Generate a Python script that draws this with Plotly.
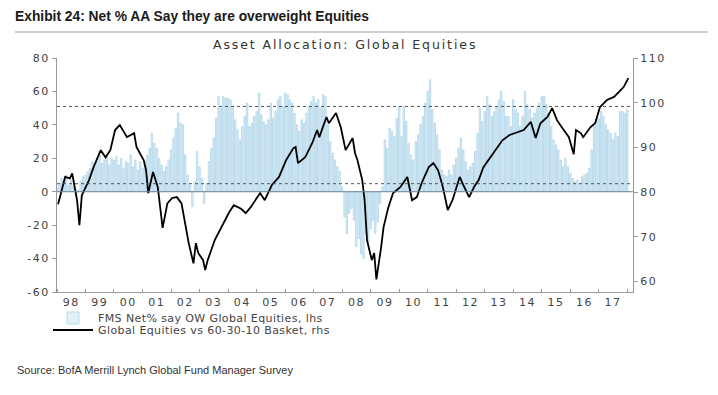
import pandas as pd
import plotly.graph_objects as go

# ---------------- data ----------------
bar_start = "1998-01-01"
bar_values = [
    # 1998
    2, 5, 8, 6, 10, 4, 7, 3, -2, 1, 6, 9,
    # 1999
    10, 12, 14, 18, 15, 20, 22, 17, 19, 21, 16, 20,
    # 2000
    19, 21, 16, 20, 14, 18, 17, 22, 15, 19, 13, 18,
    # 2001
    14, 18, 22, 26, 35, 29, 26, 20, 16, 12, 15, 19,
    # 2002
    25, 32, 38, 47, 41, 40, 22, 10, 4, -9, 6, 24,
    # 2003
    15, 8, -7, 5, 18, 26, 32, 44, 57, 50, 57, 56,
    # 2004
    56, 55, 51, 43, 37, 31, 39, 45, 53, 39, 41, 45,
    # 2005
    48, 59, 46, 42, 40, 43, 53, 44, 48, 55, 57, 51,
    # 2006
    59, 58, 55, 53, 47, 40, 36, 43, 41, 47, 51, 54,
    # 2007
    57, 53, 55, 50, 58, 57, 40, 30, 23, 19, 15, 12,
    # 2008
    3, -15, -25, -13, -10, -17, -33, -28, -37, -40, -25, -30,
    # 2009
    -22, -17, -25, -18, -7, 3, 31, 26, 38, 36, 33, 44,
    # 2010
    51, 33, 51, 42, 29, 22, 19, 30, 34, 40, 45, 53,
    # 2011
    60, 67, 49, 41, 34, 25, 13, 10, 9, 13, 10, 16,
    # 2012
    20, 26, 32, 25, 18, 13, 15, 17, 24, 35, 50, 42,
    # 2013
    48, 57, 52, 45, 48, 51, 55, 60, 54, 45, 45, 39,
    # 2014
    55, 49, 47, 39, 45, 60, 52, 49, 44, 47, 50, 53,
    # 2015
    57, 57, 52, 47, 39, 31, 28, 25, 19, 15, 20, 15,
    # 2016
    11, 8, 6, 7, 5, 9, 10, 11, 14, 25, 39, 44,
    # 2017
    44, 48, 45, 40, 37, 35, 31, 35, 33, 48, 48, 47,
    # 2018
    49,
]
bar_dates = pd.date_range(bar_start, periods=len(bar_values), freq="MS")

line_dates = [
    "1998-01-15", "1998-04-15", "1998-06-15", "1998-07-15", "1998-09-15", "1998-10-15", "1998-11-15",
    "1999-02-15", "1999-04-15", "1999-07-15", "1999-09-15", "1999-11-15",
    "2000-01-15", "2000-03-15", "2000-06-15", "2000-09-15", "2000-10-15",
    "2001-01-15", "2001-02-15", "2001-03-15", "2001-05-15", "2001-07-15", "2001-09-15", "2001-11-15",
    "2002-01-15", "2002-03-15", "2002-05-15", "2002-07-15", "2002-08-15", "2002-10-15", "2002-11-15", "2002-12-15",
    "2003-02-15", "2003-03-15", "2003-04-15", "2003-07-15", "2003-09-15", "2003-11-15",
    "2004-01-15", "2004-03-15", "2004-06-15", "2004-08-15", "2004-10-15",
    "2005-02-15", "2005-04-15", "2005-07-15", "2005-10-15",
    "2006-01-15", "2006-04-15", "2006-05-15", "2006-06-15", "2006-09-15", "2006-12-15",
    "2007-02-15", "2007-03-15", "2007-06-15", "2007-07-15", "2007-10-15", "2007-12-15",
    "2008-02-15", "2008-05-15", "2008-06-15", "2008-07-15", "2008-09-15", "2008-10-15", "2008-11-15",
    "2009-01-15", "2009-02-15", "2009-03-15", "2009-05-15", "2009-06-15", "2009-08-15", "2009-10-15",
    "2010-01-15", "2010-04-15", "2010-06-15", "2010-08-15", "2010-10-15",
    "2011-01-15", "2011-03-15", "2011-05-15", "2011-07-15", "2011-08-15", "2011-09-15", "2011-11-15",
    "2012-02-15", "2012-04-15", "2012-06-15", "2012-08-15", "2012-10-15", "2012-12-15",
    "2013-03-15", "2013-06-15", "2013-08-15", "2013-11-15",
    "2014-02-15", "2014-05-15", "2014-08-15", "2014-10-15", "2014-12-15",
    "2015-03-15", "2015-05-15", "2015-07-15", "2015-09-15", "2015-12-15",
    "2016-02-15", "2016-03-15", "2016-05-15", "2016-06-15", "2016-09-15", "2016-11-15",
    "2017-01-15", "2017-04-15", "2017-07-15", "2017-09-15", "2017-11-15", "2018-01-15",
]
line_values = [
    77.3, 83.4, 83.1, 84.2, 78.2, 72.6, 79.3,
    82.7, 85.6, 89.4, 87.8, 89.4,
    93.9, 95.0, 92.3, 93.2, 90.1,
    87.2, 84.9, 79.8, 84.5, 81.1, 72.0, 77.5,
    78.7, 78.9, 77.5, 71.5, 68.6, 64.1, 68.6, 66.4,
    64.8, 62.6, 64.8, 69.3, 71.5, 73.7,
    75.5, 77.1, 76.3, 75.3, 76.6,
    79.8, 78.2, 81.6, 83.4,
    87.2, 89.8, 90.1, 86.5, 87.8, 91.0,
    93.9, 92.3, 96.8, 95.4, 97.7, 94.5,
    89.4, 92.1, 88.7, 87.2, 82.7, 78.2, 69.3,
    64.8, 66.4, 60.5, 67.7, 72.2, 76.6, 79.8,
    81.1, 83.4, 78.2, 78.9, 82.0,
    85.6, 86.5, 84.9, 81.1, 78.9, 76.0, 78.2,
    83.4, 81.1, 78.9, 81.1, 82.7, 85.6,
    87.8, 90.1, 91.6, 92.8,
    93.4, 93.9, 95.7, 92.1, 95.4,
    96.8, 98.8, 96.1, 94.5, 92.3,
    88.5, 93.9, 93.2, 92.3, 94.5, 95.4,
    99.0, 100.6, 101.3, 102.4, 103.5, 105.5,
]

upper_band = 51.0   # dotted reference line, lhs
lower_band = 4.8    # dotted reference line, lhs
left_ticks = [-60, -40, -20, 0, 20, 40, 60, 80]
right_ticks = [60, 70, 80, 90, 100, 110]
years = list(range(1998, 2018))
year_labels = ["98", "99", "00", "01", "02", "03", "04", "05", "06", "07",
               "08", "09", "10", "11", "12", "13", "14", "15", "16", "17"]

title_text = "Exhibit 24: Net % AA Say they are overweight Equities"
subtitle_text = "Asset Allocation: Global Equities"
source_text = "Source: BofA Merrill Lynch Global Fund Manager Survey"
bar_name = "FMS Net% say OW Global Equities, lhs"
line_name = "Global Equities vs 60-30-10 Basket, rhs"

# ---------------- figure ----------------
def spaced(s, sp=1.2):
    return '<span style="letter-spacing:%spx">%s</span>' % (sp, s)

tick_font = dict(family="DejaVu Sans", size=11, color="#444444")
axis_col = "#9a9a9a"

fig = go.Figure()
fig.add_trace(go.Bar(
    x=bar_dates, y=bar_values, name=spaced(bar_name, 0.4), yaxis="y", legend="legend",
    marker=dict(color="rgba(218,238,248,0.8)", line=dict(color="#a6d0e6", width=0.7)),
))
fig.add_trace(go.Scatter(
    x=line_dates, y=line_values, name=spaced(line_name, 0.4), yaxis="y2", mode="lines",
    legend="legend2", line=dict(color="black", width=1.8),
))

W, H = 718, 395
L, R, T, B = 57, 633, 58, 292
pw, ph = R - L, B - T

def px_x(x):
    return (x - L) / pw

def px_y(y):
    return (B - y) / ph

shapes = [
    dict(type="line", xref="paper", yref="y", x0=0, x1=1, y0=0, y1=0,
         line=dict(color="#6f8496", width=1)),
    dict(type="line", xref="paper", yref="y", x0=0, x1=1, y0=upper_band, y1=upper_band,
         line=dict(color="#555555", width=1, dash="dot")),
    dict(type="line", xref="paper", yref="y", x0=0, x1=1, y0=lower_band, y1=lower_band,
         line=dict(color="#555555", width=1, dash="dot")),
    dict(type="line", xref="paper", yref="paper", x0=px_x(15), x1=px_x(708),
         y0=px_y(32), y1=px_y(32), line=dict(color="#a0a0a0", width=1)),
]

legend_common = dict(xanchor="left", yanchor="middle", bgcolor="rgba(0,0,0,0)",
                     itemwidth=40, borderwidth=0,
                     font=dict(family="DejaVu Sans", size=11, color="#444444"))

fig.update_layout(
    width=W, height=H,
    margin=dict(l=L, r=W - R, t=T, b=H - B, pad=0),
    paper_bgcolor="white", plot_bgcolor="white",
    bargap=0.35,
    showlegend=True,
    title=dict(text="<b>" + title_text + "</b>", x=15 / W, xanchor="left", xref="container",
               y=1 - 16 / H, yanchor="middle", yref="container",
               font=dict(family="Liberation Sans Narrow, Liberation Sans", size=13.8, color="#1a1a1a")),
    xaxis=dict(type="date", range=["1998-01-01", "2018-03-15"],
               tickvals=["%d-07-02" % y for y in years],
               ticktext=[spaced(t, 1.5) for t in year_labels],
               ticks="", showline=True, linecolor=axis_col, linewidth=1,
               minor=dict(dtick="M12", tick0="1998-01-01", ticks="inside", ticklen=3,
                          tickcolor=axis_col, showgrid=False),
               showgrid=False, zeroline=False, tickfont=tick_font),
    yaxis=dict(range=[-60, 80], tickvals=left_ticks,
               ticktext=[spaced(str(v), 1.5) for v in left_ticks],
               ticks="outside", ticklen=4,
               tickcolor=axis_col, showline=True, linecolor=axis_col, linewidth=1,
               showgrid=False, zeroline=False, tickfont=tick_font),
    yaxis2=dict(range=[57.68, 110], tickvals=right_ticks,
                ticktext=[spaced(str(v), 1.5) for v in right_ticks],
                overlaying="y", side="right",
                ticks="outside", ticklen=4, tickcolor=axis_col, showline=True,
                linecolor=axis_col, linewidth=1, showgrid=False, zeroline=False,
                tickfont=tick_font),
    legend=dict(x=px_x(48), y=px_y(318), **legend_common),
    legend2=dict(x=px_x(48), y=px_y(330), **legend_common),
    shapes=shapes,
    annotations=[
        dict(text=spaced(subtitle_text, 1.9), xref="paper", yref="paper", x=0.5, y=px_y(44),
             xanchor="center", yanchor="middle", showarrow=False,
             font=dict(family="DejaVu Sans", size=12.5, color="#333333")),
        dict(text=source_text, xref="paper", yref="paper", x=px_x(15), y=px_y(370),
             xanchor="left", yanchor="middle", showarrow=False,
             font=dict(family="Liberation Sans Narrow, Liberation Sans", size=11, color="#333333")),
    ],
)

fig.write_html("out.html", config={"displayModeBar": False},
               post_script="document.body.style.margin='0';")
